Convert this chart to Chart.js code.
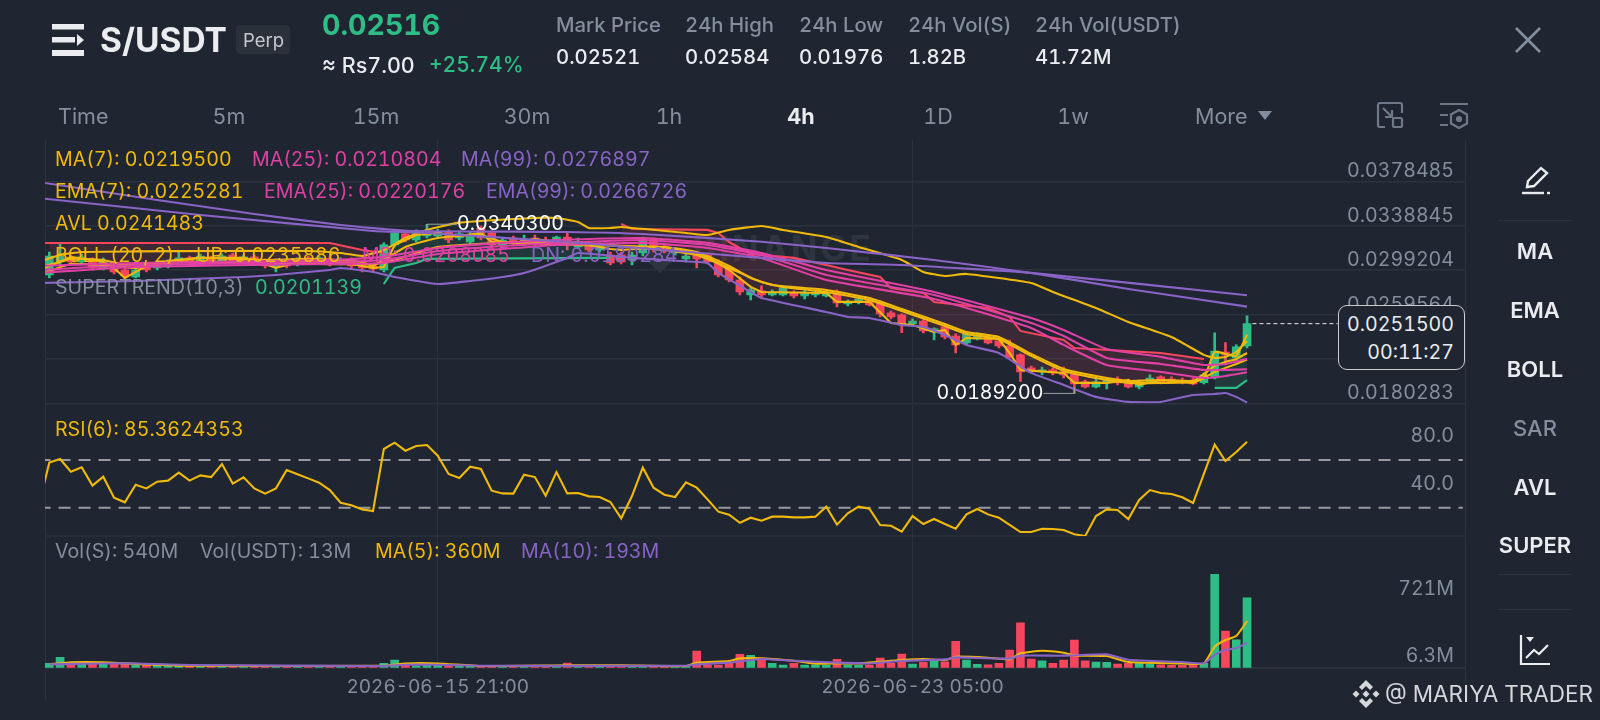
<!DOCTYPE html>
<html>
<head>
<meta charset="utf-8">
<title>S/USDT Perp</title>
<script src="https://cdn.jsdelivr.net/npm/chart.js@4"></script>
<style>
html,body{margin:0;padding:0;background:#1f2631;}
#page{position:relative;width:1600px;height:720px;overflow:hidden;background:#1f2631;font-family:Inter,"Noto Sans",sans-serif;font-variant-numeric:tabular-nums;}
#page canvas{position:absolute;left:0;top:0;z-index:1;}
.t{position:absolute;white-space:nowrap;transform:translateY(-50%);font-size:19.6px;line-height:24px;z-index:2;}
.c{transform:translate(-50%,-50%);}
.g{color:#848e9c;}
.w{color:#eaecef;}
.y{color:#f0b90b;}
.p{color:#e040a5;}
.v{color:#8a63c6;}
.u{color:#2ebd85;}
.hd{font-size:20.3px;font-weight:500;}
.tf{font-size:21.5px;color:#848e9c;}
.sd{font-size:22px;font-weight:600;color:#eaecef;left:1535px;}
.ln{position:absolute;background:#2b323d;}
svg{position:absolute;overflow:visible;z-index:2;}
#box{position:absolute;left:1338px;top:305px;width:125px;height:63px;border:1.5px solid #c9ccd1;border-radius:9px;background:#1f2631;z-index:3;}
</style>
</head>
<body>
<div id="page">
  <!-- header -->
  <svg style="left:52px;top:24px" width="32" height="32" fill="#eaecef">
    <rect width="32" height="5.5"/><rect y="13" width="23" height="5.5"/><rect y="26" width="32" height="6"/><path d="M25 10l7 6-7 6z"/>
  </svg>
  <div class="t w" style="left:100px;top:40px;font-size:33.5px;font-weight:700;line-height:40px">S/USDT</div>
  <div style="position:absolute;left:236px;top:25px;width:54px;height:29px;background:#2b313b;border-radius:4px"></div>
  <div class="t" style="left:243px;top:40px;font-size:18.5px;color:#c5c9d0">Perp</div>
  <div class="t u" style="left:322px;top:25px;font-size:28.5px;font-weight:700;line-height:34px">0.02516</div>
  <div class="t w" style="left:322px;top:65px;font-size:21.5px;font-weight:500">≈ Rs7.00</div>
  <div class="t u" style="left:429px;top:65px;font-size:21px;font-weight:500">+25.74%</div>
  <div class="t g hd" style="left:556px;top:25px">Mark Price</div>
  <div class="t w hd" style="left:556px;top:57px">0.02521</div>
  <div class="t g hd" style="left:685px;top:25px">24h High</div>
  <div class="t w hd" style="left:685px;top:57px">0.02584</div>
  <div class="t g hd" style="left:799px;top:25px">24h Low</div>
  <div class="t w hd" style="left:799px;top:57px">0.01976</div>
  <div class="t g hd" style="left:908px;top:25px">24h Vol(S)</div>
  <div class="t w hd" style="left:908px;top:57px">1.82B</div>
  <div class="t g hd" style="left:1035px;top:25px">24h Vol(USDT)</div>
  <div class="t w hd" style="left:1035px;top:57px">41.72M</div>
  <svg style="left:1515px;top:27px" width="26" height="26" stroke="#848e9c" stroke-width="2.6" fill="none"><path d="M1 1l24 24M25 1L1 25"/></svg>

  <!-- timeframe row -->
  <div class="t tf" style="left:58px;top:116px">Time</div>
  <div class="t tf c" style="left:229px;top:116px">5m</div>
  <div class="t tf c" style="left:376px;top:116px">15m</div>
  <div class="t tf c" style="left:527px;top:116px">30m</div>
  <div class="t tf c" style="left:669px;top:116px">1h</div>
  <div class="t tf c" style="left:801px;top:116px;color:#eaecef;font-weight:700">4h</div>
  <div class="t tf c" style="left:938px;top:116px">1D</div>
  <div class="t tf c" style="left:1073px;top:116px">1w</div>
  <div class="t tf" style="left:1195px;top:116px">More</div>
  <svg style="left:1258px;top:111px" width="14" height="9" fill="#848e9c"><path d="M0 0h14L7 9z"/></svg>
  <svg style="left:1377px;top:102px" width="26" height="26" stroke="#6e7887" stroke-width="2.2" fill="none">
    <path d="M8 25H3a2 2 0 0 1-2-2V3a2 2 0 0 1 2-2h20a2 2 0 0 1 2 2v8"/><rect x="16" y="16" width="9" height="9" rx="1.5"/><path d="M6 6l9 9M15 8v7H8"/>
  </svg>
  <svg style="left:1440px;top:103px" width="28" height="26" stroke="#6e7887" stroke-width="2.2" fill="none">
    <path d="M0 1h28M0 12h8M0 22h8"/><path d="M19 7l8 4.5v9L19 25l-8-4.500v-9z"/><circle cx="19" cy="16" r="2" fill="#6e7887"/>
  </svg>

  <!-- sidebar -->
  <svg style="left:1522px;top:166px" width="28" height="28" stroke="#eaecef" stroke-width="2.4" fill="none">
    <path d="M5 21l1-6L19 2l6 5-13 13z"/><path d="M0 27h22" /><path d="M25 27h3"/>
  </svg>
  <div class="ln" style="left:1498px;top:220px;width:74px;height:1px"></div>
  <div class="t c sd" style="top:251px">MA</div>
  <div class="t c sd" style="top:310px">EMA</div>
  <div class="t c sd" style="top:369px">BOLL</div>
  <div class="t c sd" style="top:428px;color:#848e9c;font-weight:500">SAR</div>
  <div class="t c sd" style="top:487px">AVL</div>
  <div class="t c sd" style="top:545px">SUPER</div>
  <div class="ln" style="left:1498px;top:574px;width:74px;height:1px"></div>
  <div class="ln" style="left:1498px;top:609px;width:74px;height:1px"></div>
  <svg style="left:1520px;top:635px" width="30" height="30" stroke="#eaecef" stroke-width="2.2" fill="none">
    <path d="M1 0v29h29"/><path d="M6 23l8-8 5 4 9-9"/><path d="M6 2h8l-4 5z" fill="#eaecef" stroke="none"/>
  </svg>

  <!-- frame and watermark under the canvas -->
  <div class="ln" style="left:45px;top:140px;width:1px;height:560px"></div>
  <div class="ln" style="left:1465px;top:140px;width:1px;height:543px"></div>
  <div class="ln" style="left:45px;top:535px;width:1420px;height:2px;background:#282e39"></div>
  <div class="ln" style="left:45px;top:667px;width:1420px;height:2px"></div>
  <div style="position:absolute;left:647px;top:242px;width:26px;height:26px;transform:rotate(45deg);background:#2e3540"></div>
  <div style="position:absolute;left:693px;top:228px;font-size:35px;font-weight:700;letter-spacing:3px;color:#2e3540;line-height:40px">BINANCE</div>

  <canvas id="chart" width="1600" height="720"></canvas>

  <!-- indicator legends -->
  <div class="t y" style="left:55px;top:159px">MA(7): 0.0219500</div>
  <div class="t p" style="left:252px;top:159px">MA(25): 0.0210804</div>
  <div class="t v" style="left:461px;top:159px">MA(99): 0.0276897</div>
  <div class="t y" style="left:55px;top:191px">EMA(7): 0.0225281</div>
  <div class="t p" style="left:264px;top:191px">EMA(25): 0.0220176</div>
  <div class="t v" style="left:486px;top:191px">EMA(99): 0.0266726</div>
  <div class="t y" style="left:55px;top:223px">AVL 0.0241483</div>
  <div class="t y" style="left:55px;top:255px">BOLL (20, 2)</div>
  <div class="t y" style="left:196px;top:255px">UP: 0.0235886</div>
  <div class="t p" style="left:362px;top:255px">MB: 0.0208085</div>
  <div class="t v" style="left:531px;top:255px">DN: 0.0180284</div>
  <div class="t g" style="left:55px;top:287px">SUPERTREND(10,3)</div>
  <div class="t u" style="left:255px;top:287px">0.0201139</div>
  <div class="t y" style="left:55px;top:429px">RSI(6): 85.3624353</div>
  <div class="t g" style="left:55px;top:551px">Vol(S): 540M</div>
  <div class="t g" style="left:200px;top:551px">Vol(USDT): 13M</div>
  <div class="t y" style="left:375px;top:551px">MA(5): 360M</div>
  <div class="t v" style="left:521px;top:551px">MA(10): 193M</div>

  <div id="box"></div>
  <div class="t w" style="right:146px;top:324px;z-index:4">0.0251500</div>
  <div class="t w" style="right:146px;top:352px;z-index:4">00:11:27</div>

  <svg style="left:1352px;top:680px" width="28" height="28" fill="#d5d7da">
    <path d="M14 0l7 7-3 3-4-4-4 4-3-3zM14 28l-7-7 3-3 4 4 4-4 3 3zM14 10.500l3.500 3.500-3.500 3.500-3.500-3.500zM4 10.500l3.500 3.500L4 17.500.5 14zM24 10.500l3.500 3.500-3.500 3.500-3.500-3.500z"/>
  </svg>
  <div class="t" style="left:1385px;top:694px;font-size:22.5px;color:#d5d7da;line-height:28px">@ MARIYA TRADER</div>
</div>

<script>
// x axis: candle index, 4h candles
const timeTickIdx = [36, 80];
const timeTicks = ['2026-06-15 21:00', '2026-06-23 05:00'];

// price axis
const priceTicks = [0.0378485, 0.0338845, 0.0299204, 0.0259564, 0.0219924, 0.0180283];
const lastPrice = 0.02515;
const lastPriceIdx = [111.5, 119.4];

// candles
const opens = [0.02950,0.03066,0.03102,0.03066,0.03084,0.03012,0.03039,0.02994,0.02932,0.03039,0.03012,0.03030,0.03057,0.03102,0.03075,0.03102,0.03075,0.03128,0.03084,0.03111,
  0.03075,0.03021,0.03057,0.03048,0.03102,0.03066,0.03093,0.03048,0.03084,0.03048,0.03030,0.02994,0.03218,0.03316,0.03262,0.03298,0.03298,0.03334,0.03280,0.03244,
  0.03369,0.03325,0.03218,0.03280,0.03218,0.03280,0.03262,0.03236,0.03289,0.03200,0.03227,0.03173,0.03128,0.03128,0.03084,0.03146,0.03271,0.03200,0.03146,0.03093,
  0.03146,0.03128,0.03066,0.03012,0.02905,0.02771,0.02807,0.02771,0.02771,0.02789,0.02762,0.02771,0.02762,0.02798,0.02691,0.02709,0.02727,0.02700,0.02611,0.02593,
  0.02512,0.02539,0.02441,0.02486,0.02405,0.02343,0.02378,0.02396,0.02361,0.02316,0.02236,0.02120,0.02084,0.02102,0.02084,0.02066,0.01995,0.01950,0.01986,0.02021,
  0.02003,0.01950,0.01995,0.02039,0.02021,0.02012,0.02012,0.01989,0.02030,0.02262,0.02209,0.02316];
const closes = [0.03119,0.03119,0.03066,0.03111,0.03012,0.03066,0.02977,0.02941,0.02994,0.02994,0.03048,0.03066,0.03102,0.03066,0.03119,0.03075,0.03119,0.03075,0.03111,0.03066,
  0.03030,0.03057,0.03030,0.03084,0.03066,0.03102,0.03048,0.03084,0.03030,0.03012,0.03003,0.03218,0.03325,0.03262,0.03334,0.03325,0.03334,0.03262,0.03316,0.03307,
  0.03280,0.03218,0.03262,0.03236,0.03271,0.03227,0.03236,0.03289,0.03236,0.03244,0.03173,0.03218,0.03057,0.03066,0.03128,0.03280,0.03191,0.03164,0.03173,0.03119,
  0.03093,0.03066,0.02950,0.02905,0.02798,0.02816,0.02771,0.02798,0.02834,0.02762,0.02798,0.02789,0.02789,0.02700,0.02709,0.02736,0.02682,0.02602,0.02575,0.02503,
  0.02539,0.02450,0.02468,0.02396,0.02325,0.02423,0.02414,0.02343,0.02316,0.02218,0.02084,0.02084,0.02102,0.02075,0.02057,0.01977,0.01950,0.01995,0.02021,0.01986,
  0.01950,0.01995,0.02030,0.01995,0.01995,0.01995,0.01977,0.02057,0.02271,0.02236,0.02309,0.02515];
const highs = [0.03155,0.03227,0.03128,0.03137,0.03102,0.03102,0.03066,0.03030,0.03012,0.03057,0.03066,0.03084,0.03155,0.03119,0.03137,0.03119,0.03137,0.03146,0.03128,0.03128,
  0.03093,0.03093,0.03075,0.03102,0.03119,0.03119,0.03111,0.03102,0.03102,0.03075,0.03048,0.03236,0.03352,0.03334,0.03352,0.03403,0.03360,0.03352,0.03343,0.03334,
  0.03387,0.03343,0.03280,0.03298,0.03307,0.03307,0.03289,0.03298,0.03325,0.03280,0.03253,0.03236,0.03155,0.03155,0.03155,0.03289,0.03280,0.03218,0.03191,0.03137,
  0.03155,0.03146,0.03084,0.03030,0.02932,0.02834,0.02852,0.02816,0.02843,0.02807,0.02816,0.02807,0.02807,0.02816,0.02727,0.02753,0.02744,0.02718,0.02628,0.02602,
  0.02557,0.02548,0.02477,0.02503,0.02423,0.02432,0.02432,0.02414,0.02378,0.02369,0.02245,0.02137,0.02128,0.02120,0.02128,0.02075,0.02012,0.02030,0.02030,0.02039,
  0.02021,0.02012,0.02057,0.02048,0.02039,0.02030,0.02030,0.02075,0.02432,0.02345,0.02325,0.02584];
const lows = [0.02923,0.03039,0.03039,0.03048,0.02994,0.02994,0.02959,0.02896,0.02923,0.02977,0.02994,0.03012,0.03039,0.03048,0.03057,0.03057,0.03057,0.03057,0.03066,0.03048,
  0.03012,0.02977,0.03012,0.03030,0.03048,0.03048,0.03030,0.03039,0.03012,0.02977,0.02977,0.02977,0.03200,0.03244,0.03244,0.03280,0.03280,0.03236,0.03262,0.03227,
  0.03262,0.03191,0.03200,0.03209,0.03209,0.03209,0.03209,0.03218,0.03173,0.03182,0.03155,0.03155,0.03039,0.03048,0.03039,0.03119,0.03155,0.03146,0.03128,0.03066,
  0.03012,0.03048,0.02932,0.02887,0.02771,0.02727,0.02753,0.02762,0.02762,0.02744,0.02736,0.02753,0.02753,0.02664,0.02673,0.02691,0.02673,0.02575,0.02557,0.02434,
  0.02494,0.02432,0.02369,0.02378,0.02253,0.02325,0.02369,0.02334,0.02298,0.02209,0.01998,0.02075,0.02057,0.02057,0.02030,0.01892,0.01941,0.01941,0.01932,0.01968,
  0.01941,0.01932,0.01986,0.01977,0.01986,0.01977,0.01968,0.01977,0.02021,0.02146,0.02173,0.02298];

// moving averages, read at the listed candle indexes
const ma99Idx = [-1,14,30,35,48,57,66,72,79,91,111];
const ma99Val = [0.03637,0.03485,0.03343,0.03325,0.03244,0.03173,0.03102,0.03057,0.03039,0.02968,0.02769];
const ema99Idx = [-1,10,19,27,33,48,55,66,72,82,91,100,111];
const ema99Val = [0.03780,0.03619,0.03494,0.03396,0.03345,0.03334,0.03316,0.03247,0.03191,0.03084,0.02968,0.02825,0.02667];
const ma25Idx = [-1,8,26,31,36,42,47,55,61,66,72,82,91,94,98,103,107,109,111];
const ma25Val = [0.02994,0.03039,0.03066,0.03084,0.03164,0.03209,0.03236,0.03262,0.03218,0.03128,0.02950,0.02771,0.02521,0.02405,0.02209,0.02155,0.02102,0.02102,0.02108];
const ema25Val = [0.03030,0.03057,0.03084,0.03111,0.03191,0.03236,0.03262,0.03280,0.03236,0.03146,0.02994,0.02798,0.02566,0.02459,0.02289,0.02218,0.02146,0.02155,0.02202];
const mbVal = [0.02968,0.03021,0.03048,0.03057,0.03137,0.03182,0.03218,0.03236,0.03191,0.03102,0.02905,0.02736,0.02477,0.02325,0.02146,0.02084,0.02030,0.02048,0.02081];

const ma7Idx = [-1,1,2,5,6,7,8,9,11,14,18,19,20,21,22,23,27,30,31,32,34,36,38,40,41,43,45,47,49,52,53,57,60,61,63,65,66,72,73,76,78,80,82,83,84,85,88,89,90,94,95,98,100,101,103,106,107,108,109,110,111];
const ma7Val = [0.02994,0.03066,0.03111,0.03066,0.03012,0.02923,0.02977,0.03030,0.03075,0.03102,0.03102,0.03084,0.03048,0.03012,0.03039,0.03075,0.03066,0.03012,0.03021,0.03218,0.03307,0.03325,0.03298,0.03325,0.03244,0.03236,0.03271,0.03244,0.03236,0.03182,0.03173,0.03200,0.03146,0.03111,0.02994,0.02843,0.02798,0.02789,0.02709,0.02709,0.02521,0.02503,0.02441,0.02459,0.02325,0.02387,0.02378,0.02253,0.02102,0.02075,0.01986,0.01986,0.02012,0.01968,0.02012,0.01986,0.02030,0.02084,0.02120,0.02155,0.02195];
const ema7Idx = [-1,2,5,7,9,14,20,24,29,30,33,36,40,42,49,57,60,63,65,67,72,76,79,83,85,88,91,94,97,100,103,106,107,108,109,110,111];
const ema7Val = [0.03012,0.03093,0.03084,0.03039,0.03048,0.03102,0.03084,0.03093,0.03066,0.03030,0.03200,0.03280,0.03307,0.03244,0.03218,0.03200,0.03155,0.03030,0.02923,0.02860,0.02816,0.02744,0.02646,0.02512,0.02441,0.02396,0.02245,0.02111,0.02048,0.02003,0.02012,0.02003,0.02066,0.02137,0.02173,0.02200,0.02253];
const avlIdx = [-1,2,6,8,12,18,25,30,32,36,42,49,57,60,63,66,68,72,76,79,83,85,88,91,94,97,100,103,106,107,108,109,110,111];
const avlVal = [0.02950,0.03048,0.03030,0.03012,0.03066,0.03066,0.03048,0.03048,0.03084,0.03200,0.03236,0.03236,0.03173,0.03128,0.03012,0.02887,0.02843,0.02798,0.02727,0.02628,0.02494,0.02423,0.02378,0.02227,0.02093,0.02030,0.01986,0.01986,0.01995,0.02030,0.02262,0.02245,0.02227,0.02415];

// bollinger bands (MB is in mbVal)
const upIdx = [-1,1,3,8,16,24,27,29,31,33,35,38,45,47,49,50,52,53,59,61,63,66,68,72,75,79,81,83,85,91,93,97,100,104,107,108,109,110,111];
const upVal = [0.03066,0.03128,0.03155,0.03160,0.03164,0.03164,0.03146,0.03119,0.03173,0.03280,0.03352,0.03417,0.03459,0.03459,0.03423,0.03369,0.03369,0.03378,0.03325,0.03307,0.03352,0.03387,0.03352,0.03289,0.03200,0.03084,0.02977,0.02941,0.02959,0.02878,0.02798,0.02655,0.02530,0.02396,0.02236,0.02209,0.02218,0.02262,0.02359];
const dnIdx = [-1,8,18,21,26,27,30,32,36,39,42,44,48,49,54,60,61,62,65,66,72,74,76,79,81,83,85,88,91,94,97,100,103,106,108,109,110,111];
const dnVal = [0.02878,0.02896,0.02932,0.02950,0.02994,0.03012,0.02977,0.02932,0.02869,0.02896,0.02932,0.02968,0.03102,0.03146,0.03102,0.03066,0.03057,0.02968,0.02798,0.02744,0.02619,0.02575,0.02566,0.02503,0.02486,0.02414,0.02325,0.02253,0.02075,0.01968,0.01861,0.01816,0.01816,0.01878,0.01887,0.01896,0.01861,0.01811];

// supertrend segments
const redAIdx = [-1,26,29,31];
const redAVal = [0.03235,0.03235,0.03173,0.03146];
const redBIdx = [53,54,61,62,63,65,69,72,74,77,78,81,82,87,89,90,94,95,103,107];
const redBVal = [0.03405,0.03360,0.03352,0.03325,0.03244,0.03137,0.03102,0.03039,0.02994,0.02932,0.02834,0.02789,0.02709,0.02655,0.02575,0.02450,0.02369,0.02298,0.02253,0.02200];
const greenAIdx = [31,32,34,35,52];
const greenAVal = [0.02869,0.03012,0.03057,0.03093,0.03102];
const greenBIdx = [108,110,111];
const greenBVal = [0.01941,0.01941,0.02011];

// RSI(6), first value sits one candle left of the first candle
const rsi = [31,67.8,70.8,60.2,63.9,48.5,56.0,38.4,34.5,49.3,46.2,51.8,52.7,59.4,52.7,57.1,55.7,66.6,50.2,55.5,46.2,41.8,46.2,61.6,58.0,54.6,51.0,44.8,34.2,32.0,28.6,27.2,
  79.2,84.5,77.8,81.7,82.6,73.6,58.3,54.9,64.4,62.5,44.3,42.0,41.8,57.7,55.7,40.1,59.9,42.0,42.3,39.5,39.0,34.8,21.1,39.8,
  63.6,46.8,40.9,39.0,51.3,46.8,37.0,26.7,24.2,17.4,21.6,19.1,22.5,22.5,21.9,21.9,22.5,30.9,15.8,25.3,30.9,29.2,15.5,14.9,9.9,23.0,16.3,20.5,16.3,12.4,24.4,28.9,24.4,21.6,15.5,9.6,9.6,12.4,12.1,11.3,7.7,6.3,
  23.0,28.6,28.1,20.5,36.5,44.8,42.3,41.5,38.7,33.9,58.3,82.9,69.2,76.7,85.4];
const rsiTicks = [80, 40];
const rsiBands = [70, 30];

// volume, in millions
const volumes = [33,80,33,28,41,33,28,28,18,21,21,18,15,10,8,12,9,7,8,6,7,10,8,7,6,7,8,6,7,9,10,33,59,21,15,21,21,15,10,10,8,9,7,8,9,7,8,10,36,15,10,9,8,7,8,9,8,9,10,12,129,
  21,21,33,104,95,67,33,21,33,21,23,21,64,23,18,21,75,33,106,28,41,52,46,204,59,26,23,33,137,346,67,54,33,59,214,54,44,41,28,33,33,28,23,18,18,18,33,721,284,216,540];
const volTicks = [721, 6.3];
const volMa5Idx = [0,2,5,9,13,31,33,36,40,48,53,59,60,63,64,66,69,71,73,75,77,79,81,83,84,87,89,90,92,94,95,98,100,105,107,108,109,110,111];
const volMa5 = [26,41,41,26,15,15,33,33,13,18,18,13,39,52,72,72,54,31,33,33,46,59,67,59,85,77,64,111,131,116,95,90,44,33,33,162,214,245,360];
const volMa10Idx = [0,5,8,13,31,33,36,40,59,60,63,66,69,73,76,79,83,84,89,90,94,98,100,105,107,108,109,110,111];
const volMa10 = [26,33,33,21,13,23,23,15,15,26,39,67,54,39,33,52,64,80,70,93,93,103,62,44,33,98,136,152,193];

const UP = '#2ebd85', DOWN = '#f6465d', GOLD = '#f0b90b', PINK = '#e040a5', PURPLE = '#8a63c6';
const GRID = '#2b323d', TICK = '#848e9c';

function pts(idx, vals) {
    return idx.map(function (x, i) { return {x: x, y: vals[i]}; });
}

function line(label, idx, vals, color, yAxisID, extra) {
    return Object.assign({
        type: 'line', label: label, data: pts(idx, vals), yAxisID: yAxisID || 'price',
        borderColor: color, borderWidth: 2.1, pointRadius: 0, tension: 0.15, fill: false, order: 2
    }, extra || {});
}

// candle centre line, only used as the lower edge of the supertrend fill
function midLine(from, to) {
    const idx = [], vals = [];
    for (let i = from; i <= to; i++) {
        idx.push(i);
        vals.push((opens[i] + closes[i]) / 2);
    }
    return line('mid', idx, vals, 'rgba(0,0,0,0)', 'price', {borderWidth: 0, tension: 0, order: 9});
}

const candleIdx = opens.map(function (o, i) { return i; });
const candleColors = opens.map(function (o, i) { return closes[i] >= o ? UP : DOWN; });

const datasets = [];
datasets.push(midLine(0, 31));
datasets.push(midLine(53, 107));
datasets.push(midLine(31, 52));
datasets.push(midLine(108, 111));

datasets.push({type: 'bar', label: 'wick', yAxisID: 'price', barThickness: 2, grouped: false, order: 8,
    data: candleIdx.map(function (i) { return {x: i, y: [lows[i], highs[i]]}; }), backgroundColor: candleColors});
datasets.push({type: 'bar', label: 'body', yAxisID: 'price', barThickness: 8, grouped: false, order: 7,
    data: candleIdx.map(function (i) { return {x: i, y: [opens[i], closes[i]]}; }), backgroundColor: candleColors});

const redFill = 'rgba(246,70,93,0.13)', greenFill = 'rgba(46,189,133,0.13)';
datasets.push(line('super up a', redAIdx, redAVal, DOWN, 'price', {tension: 0, fill: {target: 0, above: redFill, below: redFill}, order: 6}));
datasets.push(line('super up b', redBIdx, redBVal, DOWN, 'price', {tension: 0, fill: {target: 1, above: redFill, below: redFill}, order: 6}));
datasets.push(line('super dn a', greenAIdx, greenAVal, UP, 'price', {tension: 0, fill: {target: 2, above: greenFill, below: greenFill}, order: 6}));
datasets.push(line('super dn b', greenBIdx, greenBVal, UP, 'price', {tension: 0, fill: {target: 3, above: greenFill, below: greenFill}, order: 6}));

datasets.push(line('MA99', ma99Idx, ma99Val, PURPLE));
datasets.push(line('EMA99', ema99Idx, ema99Val, PURPLE));
datasets.push(line('UP', upIdx, upVal, GOLD));
datasets.push(line('DN', dnIdx, dnVal, PURPLE));
datasets.push(line('MA25', ma25Idx, ma25Val, PINK));
datasets.push(line('EMA25', ma25Idx, ema25Val, PINK));
datasets.push(line('MB', ma25Idx, mbVal, PINK));
datasets.push(line('MA7', ma7Idx, ma7Val, GOLD, 'price', {tension: 0}));
datasets.push(line('EMA7', ema7Idx, ema7Val, GOLD));
datasets.push(line('AVL', avlIdx, avlVal, GOLD));
datasets.push(line('last', lastPriceIdx, [lastPrice, lastPrice], '#eaecef', 'price', {borderWidth: 1, borderDash: [4, 3], tension: 0}));

// rsi panel
datasets.push(line('RSI', rsi.map(function (v, i) { return i - 1; }), rsi, GOLD, 'rsi', {tension: 0}));
rsiBands.forEach(function (b) {
    datasets.push(line('band', [-1, 131], [b, b], '#97999e', 'rsi', {borderDash: [12, 8], tension: 0, order: 3}));
});

// volume panel
datasets.push({type: 'bar', label: 'vol', yAxisID: 'vol', barThickness: 8, grouped: false, order: 7,
    data: candleIdx.map(function (i) { return {x: i, y: volumes[i]}; }), backgroundColor: candleColors});
datasets.push(line('vol ma5', volMa5Idx, volMa5, GOLD, 'vol'));
datasets.push(line('vol ma10', volMa10Idx, volMa10, PURPLE, 'vol', {order: 1}));

// high / low markers of the visible range
const extremes = {
    id: 'extremes',
    afterDatasetsDraw: function (chart) {
        const c = chart.ctx, xs = chart.scales.x, ys = chart.scales.price;
        const hi = highs.indexOf(Math.max.apply(null, highs));
        const lo = lows.indexOf(Math.min.apply(null, lows));
        c.save();
        c.font = '19.6px Inter';
        c.textBaseline = 'middle';
        c.strokeStyle = '#9aa0a8';
        c.lineWidth = 1;

        let x = xs.getPixelForValue(hi), y = ys.getPixelForValue(highs[hi]);
        c.beginPath();
        c.moveTo(x, y + 6); c.lineTo(x, y); c.lineTo(x + 30, y);
        c.stroke();
        c.fillStyle = '#ffffff';
        c.textAlign = 'left';
        c.fillText(highs[hi].toFixed(7), x + 30, y);

        x = xs.getPixelForValue(lo); y = ys.getPixelForValue(lows[lo]);
        c.beginPath();
        c.moveTo(x, y - 6); c.lineTo(x, y); c.lineTo(x - 31, y);
        c.stroke();
        c.textAlign = 'right';
        c.fillText(lows[lo].toFixed(7), x - 31, y);
        c.restore();
    }
};

const yAxisCommon = {
    position: 'right',
    stack: 'panels',
    border: {display: false}
};

new Chart(document.getElementById('chart'), {
    type: 'line',
    data: {datasets: datasets},
    plugins: [extremes],
    options: {
        responsive: false,
        animation: false,
        devicePixelRatio: 1,
        parsing: {},
        layout: {padding: {left: 45, right: 135, top: 140, bottom: 0}},
        plugins: {legend: {display: false}, tooltip: {enabled: false}},
        scales: {
            x: {
                type: 'linear', offset: false, min: -0.4, max: 131.2,
                border: {display: false},
                grid: {color: GRID, offset: false, drawTicks: false, lineWidth: 1},
                afterBuildTicks: function (s) { s.ticks = timeTickIdx.map(function (v) { return {value: v}; }); },
                afterFit: function (s) { s.height = 52.3; },
                ticks: {
                    color: TICK, font: {family: 'Inter', size: 19}, padding: 8, maxRotation: 0, autoSkip: false,
                    callback: function (v) { return timeTicks[timeTickIdx.indexOf(v)]; }
                }
            },
            price: Object.assign({}, yAxisCommon, {
                stackWeight: 263.6, min: 0.01801, max: 0.04155,
                grid: {color: GRID, lineWidth: 1.5, drawTicks: false},
                afterBuildTicks: function (s) { s.ticks = priceTicks.map(function (v) { return {value: v}; }); },
                ticks: {
                    color: TICK, font: {family: 'Inter', size: 19.6}, mirror: true, padding: -11, labelOffset: -10,
                    callback: function (v) { return v.toFixed(7); }
                }
            }),
            rsi: Object.assign({}, yAxisCommon, {
                stackWeight: 132.4, min: 6.27, max: 117.3,
                grid: {display: false, drawTicks: false},
                afterBuildTicks: function (s) { s.ticks = rsiTicks.map(function (v) { return {value: v}; }); },
                ticks: {
                    color: TICK, font: {family: 'Inter', size: 19.6}, mirror: true, padding: -11, labelOffset: -12,
                    callback: function (v) { return v.toFixed(1); }
                }
            }),
            vol: Object.assign({}, yAxisCommon, {
                stackWeight: 131.7, min: 0, max: 1018,
                grid: {display: false, drawTicks: false},
                afterBuildTicks: function (s) { s.ticks = volTicks.map(function (v) { return {value: v}; }); },
                ticks: {
                    color: TICK, font: {family: 'Inter', size: 19.6, lineHeight: 1.327}, mirror: true, padding: -11, labelOffset: 2,
                    // two line labels push the text towards the inside of the panel
                    callback: function (v) { return v > 100 ? ['', v + 'M'] : [v + 'M', '']; }
                }
            })
        }
    }
});
</script>
</body>
</html>
